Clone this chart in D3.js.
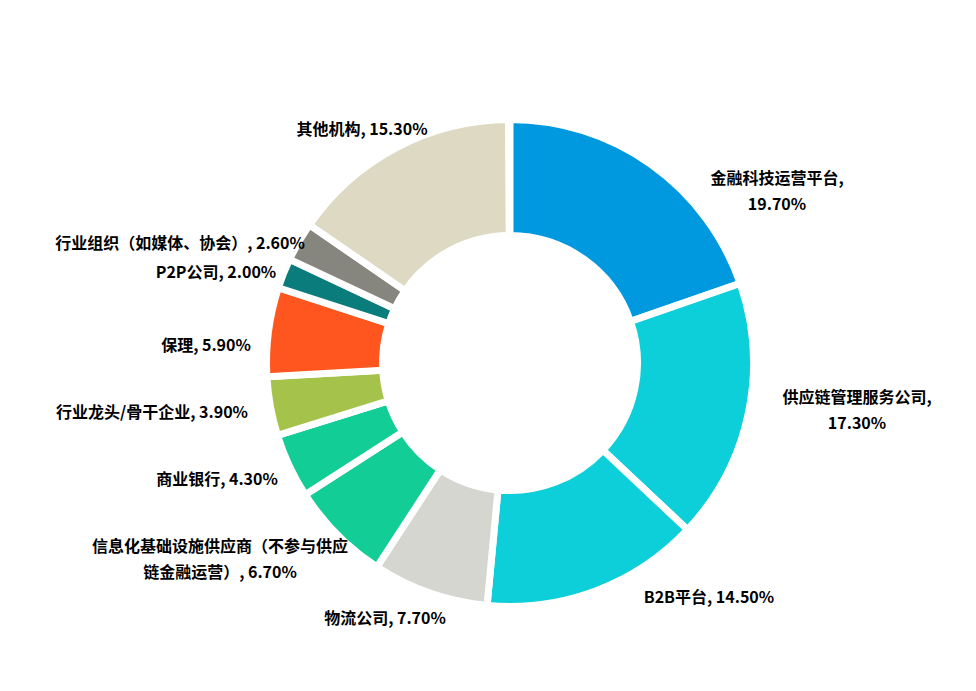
<!DOCTYPE html>
<html><head><meta charset="utf-8">
<script src="https://cdn.jsdelivr.net/npm/d3@7"></script>
<style>
html,body{margin:0;padding:0;background:#fff;}
svg{display:block;}
text{font-family:"Noto Sans CJK SC","Noto Sans",sans-serif;font-weight:bold;font-size:16px;fill:#000;}
</style></head>
<body>
<svg id="chart" width="976" height="691"></svg>
<script>
// ---- data ----
const categories = ["金融科技运营平台","供应链管理服务公司","B2B平台","物流公司","信息化基础设施供应商（不参与供应链金融运营）","商业银行","行业龙头/骨干企业","保理","P2P公司","行业组织（如媒体、协会）","其他机构"];
const values = [19.7,17.3,14.5,7.7,6.7,4.3,3.9,5.9,2.0,2.6,15.3];
const colors = ["#0098de","#0dcfda","#0dcfda","#d6d6d1","#13cd96","#13cd96","#a5c34a","#fe561e","#0a7c7c","#86857e","#ddd9c3"];
// label text lines (layout: text broken into lines as in reference)
const labelLines = [
  ["金融科技运营平台,","19.70%"],
  ["供应链管理服务公司,","17.30%"],
  ["B2B平台, 14.50%"],
  ["物流公司, 7.70%"],
  ["信息化基础设施供应商（不参与供应","链金融运营）, 6.70%"],
  ["商业银行, 4.30%"],
  ["行业龙头/骨干企业, 3.90%"],
  ["保理, 5.90%"],
  ["P2P公司, 2.00%"],
  ["行业组织（如媒体、协会）, 2.60%"],
  ["其他机构, 15.30%"]
];
// label centre offsets from the donut centre
const labelOffsets = [[267,-173],[347,46],[199,233],[-125,254],[-290,195],[-293,115],[-358,48],[-304,-19],[-294,-92],[-330,-121],[-148,-235]];

const W=976,H=691,cx=510,cy=363;
const outerR=243.5, innerR=127.5;
const svg=d3.select("#chart");
const g=svg.append("g").attr("transform",`translate(${cx},${cy})`);

const total=d3.sum(values);
const pie=d3.pie().sort(null).value(d=>d).startAngle(0).endAngle(2*Math.PI*total/100);
const arcs=pie(values);
const arc=d3.arc().innerRadius(innerR).outerRadius(outerR);

g.selectAll("path.slice").data(arcs).join("path")
  .attr("class","slice")
  .attr("d",arc)
  .attr("fill",(d,i)=>colors[i])
  .attr("stroke","#fff")
  .attr("stroke-width",7)
  .attr("stroke-linejoin","miter");

const lineH=26.5;
const lg=g.selectAll("g.lbl").data(arcs).join("g").attr("class","lbl")
  .attr("transform",(d,i)=>`translate(${labelOffsets[i][0]},${labelOffsets[i][1]})`);
lg.each(function(d,i){
  const lines=labelLines[i];
  const n=lines.length;
  d3.select(this).selectAll("text").data(lines).join("text")
    .attr("text-anchor","middle")
    .attr("dominant-baseline","central")
    .attr("y",(t,j)=>(j-(n-1)/2)*lineH)
    .text(t=>t);
});
</script>
</body></html>
